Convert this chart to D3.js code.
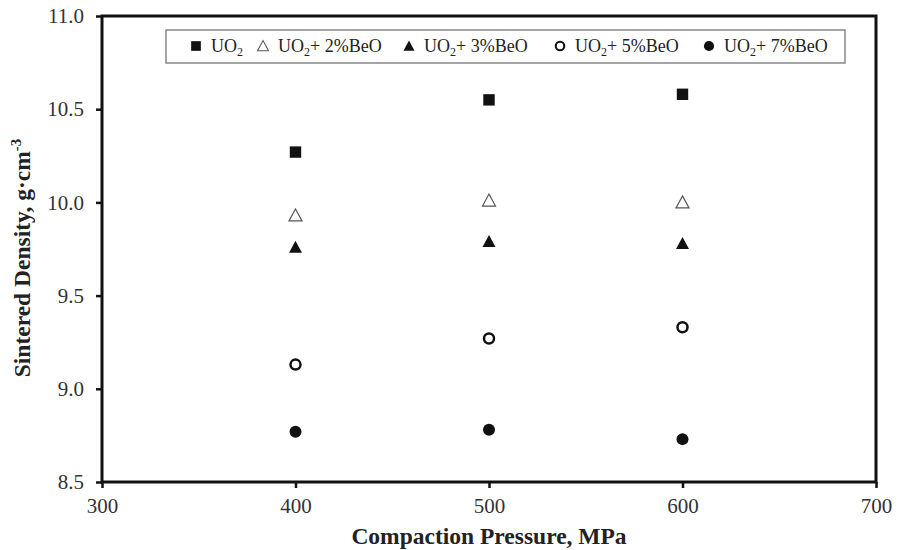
<!DOCTYPE html>
<html>
<head>
<meta charset="utf-8">
<script src="https://cdn.jsdelivr.net/npm/d3@7"></script>
<style>
  body { margin: 0; background: #fff; }
  svg { display: block; font-family: "Liberation Serif", "Times New Roman", serif; }
</style>
</head>
<body>
<svg id="chart" width="898" height="550"></svg>
<script>
// pressures (MPa)
const presion = [400, 500, 600];

// sintered density, g/cm3, per composition
const uo2 = [10.27, 10.55, 10.58];
const beo2 = [9.93, 10.01, 10.00];
const beo3 = [9.76, 9.79, 9.78];
const beo5 = [9.13, 9.27, 9.33];
const beo7 = [8.77, 8.78, 8.73];

const etiquetas = ["", "+ 2%BeO", "+ 3%BeO", "+ 5%BeO", "+ 7%BeO"];
const xTicks = [300, 400, 500, 600, 700];
const yTicks = [8.5, 9.0, 9.5, 10.0, 10.5, 11.0];

const series = [
  {nombre: etiquetas[0], valores: uo2, forma: "square", relleno: true},
  {nombre: etiquetas[1], valores: beo2, forma: "triangle", relleno: false},
  {nombre: etiquetas[2], valores: beo3, forma: "triangle", relleno: true},
  {nombre: etiquetas[3], valores: beo5, forma: "circle", relleno: false},
  {nombre: etiquetas[4], valores: beo7, forma: "circle", relleno: true}
];

const margen = {top: 16, right: 22, bottom: 68, left: 102};
const ancho = 898, alto = 550;

const svg = d3.select("#chart");

const x = d3.scaleLinear().domain([300, 700]).range([margen.left, ancho - margen.right]);
const y = d3.scaleLinear().domain([8.5, 11.0]).range([alto - margen.bottom, margen.top]);

// marker paths
function marcador(forma) {
  if (forma === "square") return d3.symbol(d3.symbolSquare, 130)();
  if (forma === "triangle") return "M0,-6.5L6.5,5.5L-6.5,5.5Z";
  return null;
}

function dibujarMarcador(g, s) {
  if (s.forma === "circle") {
    g.append("circle")
      .attr("r", s.relleno ? 6 : 5)
      .attr("fill", s.relleno ? "#111" : "#fff")
      .attr("stroke", "#111")
      .attr("stroke-width", s.relleno ? 0 : 2.5);
  } else {
    g.append("path")
      .attr("d", marcador(s.forma))
      .attr("fill", s.relleno ? "#111" : "#fff")
      .attr("stroke", s.relleno ? "none" : "#555")
      .attr("stroke-width", 1.2);
  }
}

// axes (font inherited from the svg rule)
const ejeX = svg.append("g")
  .attr("transform", `translate(0,${y(8.5)})`)
  .call(d3.axisBottom(x).tickValues(xTicks).tickSize(6).tickPadding(10).tickFormat(d3.format("d")))
  .attr("font-family", null)
  .attr("font-size", 21);

const ejeY = svg.append("g")
  .attr("transform", `translate(${x(300)},0)`)
  .call(d3.axisLeft(y).tickValues(yTicks).tickSize(6).tickPadding(12).tickFormat(d3.format(".1f")))
  .attr("font-family", null)
  .attr("font-size", 21);

ejeX.select(".domain").remove();
ejeY.select(".domain").remove();
svg.selectAll(".tick line").attr("stroke", "#111").attr("stroke-width", 2.5);
svg.selectAll(".tick text").attr("fill", "#333");

// frame
svg.append("rect")
  .attr("x", x(300))
  .attr("y", y(11.0))
  .attr("width", x(700) - x(300))
  .attr("height", y(8.5) - y(11.0))
  .attr("fill", "none")
  .attr("stroke", "#111")
  .attr("stroke-width", 3);

// points
series.forEach(s => {
  s.valores.forEach((v, i) => {
    const g = svg.append("g").attr("transform", `translate(${x(presion[i])},${y(v)})`);
    dibujarMarcador(g, s);
  });
});

// legend
const leyenda = svg.append("g");
leyenda.append("rect")
  .attr("x", 166).attr("y", 30)
  .attr("width", 679).attr("height", 33)
  .attr("fill", "#fff")
  .attr("stroke", "#888")
  .attr("stroke-width", 1.5);

const posLeyenda = [196, 263, 409, 560, 709];
series.forEach((s, i) => {
  const g = leyenda.append("g").attr("transform", `translate(${posLeyenda[i]},46)`);
  const m = g.append("g").attr("transform", "scale(0.85)");
  dibujarMarcador(m, s);
  const t = g.append("text")
    .attr("x", 15)
    .attr("y", 6)
    .attr("font-size", 18)
    .attr("fill", "#222");
  t.append("tspan").text("UO");
  t.append("tspan").text("2").attr("dy", 4).attr("font-size", 12);
  if (s.nombre) t.append("tspan").text(s.nombre).attr("dy", -4);
});

// axis titles
svg.append("text")
  .attr("x", (x(300) + x(700)) / 2)
  .attr("y", 544)
  .attr("text-anchor", "middle")
  .attr("font-weight", "bold")
  .attr("font-size", 23.5)
  .attr("fill", "#222")
  .text("Compaction Pressure, MPa");

const ty = svg.append("text")
  .attr("transform", `translate(30,258) rotate(-90)`)
  .attr("text-anchor", "middle")
  .attr("font-weight", "bold")
  .attr("font-size", 23.5)
  .attr("fill", "#222");
ty.append("tspan").text("Sintered Density, g·cm");
ty.append("tspan").text("-3").attr("dy", -9).attr("font-size", 15);
</script>
</body>
</html>
